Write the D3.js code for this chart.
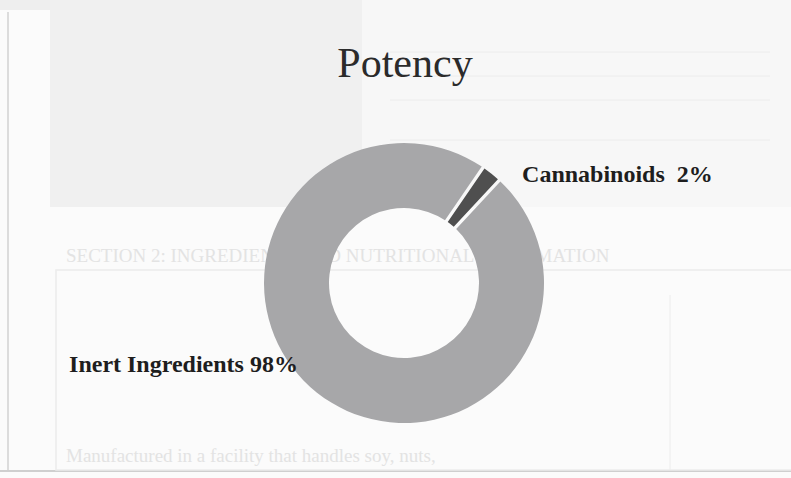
<!DOCTYPE html>
<html>
<head>
<meta charset="utf-8">
<script src="https://cdn.jsdelivr.net/npm/d3@7"></script>
<style>
  html, body { margin: 0; padding: 0; background: #fbfbfb; }
  svg { display: block; }
  .title { font-family: "Liberation Serif", "DejaVu Serif", serif; font-size: 42px; fill: #2b2b2b; }
  .label { font-family: "Liberation Serif", "DejaVu Serif", serif; font-size: 24px; font-weight: bold; fill: #1e1e1e; }
  .ghost { font-family: "Liberation Serif", serif; font-size: 19px; fill: #e3e3e3; }
</style>
</head>
<body>
<svg id="chart" width="791" height="478"></svg>
<script>
// chart values
const categories = ["Cannabinoids", "Inert Ingredients"];
const values = [2, 98];
const sliceColors = ["#4f4f4f", "#a7a7a9"];
const chartTitle = "Potency";

// faint scanned page text behind the chart
const ghostLines = [
  "SECTION 2:  INGREDIENTS AND NUTRITIONAL INFORMATION",
  "Manufactured in a facility that handles soy, nuts,"
];
const ghostY = [262, 462];

const svg = d3.select("#chart");
const W = 791, H = 478;

// --- scanned page background ---
const bg = svg.append("g");
bg.append("rect").attr("x", 0).attr("y", 0).attr("width", W).attr("height", 10).attr("fill", "#eeeeee");
bg.append("rect").attr("x", 50).attr("y", 0).attr("width", 312).attr("height", 207).attr("fill", "#f0f0f0");
bg.append("rect").attr("x", 362).attr("y", 0).attr("width", 429).attr("height", 207).attr("fill", "#f7f7f7");
bg.append("line").attr("x1", 8).attr("x2", 8).attr("y1", 12).attr("y2", 470).attr("stroke", "#dcdcdc").attr("stroke-width", 2);
bg.append("line").attr("x1", 0).attr("x2", W).attr("y1", 471).attr("y2", 471).attr("stroke", "#cfcfcf").attr("stroke-width", 2);
bg.append("rect").attr("x", 56).attr("y", 270).attr("width", 740).attr("height", 200)
  .attr("fill", "none").attr("stroke", "#ececec").attr("stroke-width", 1.5);
bg.append("line").attr("x1", 670).attr("x2", 670).attr("y1", 295).attr("y2", 470).attr("stroke", "#ececec");
[52, 76, 100, 140].forEach(function (y) {
  bg.append("line").attr("x1", 390).attr("x2", 770).attr("y1", y).attr("y2", y).attr("stroke", "#ececec");
});
bg.selectAll("text.ghost")
  .data(ghostLines)
  .enter()
  .append("text")
  .attr("class", "ghost")
  .attr("x", 66)
  .attr("y", function (d, i) { return ghostY[i]; })
  .text(function (d) { return d; });

// --- donut ---
const cx = 404, cy = 283;
const outerR = 140, innerR = 75;
const start = 34.4 * Math.PI / 180;

const pie = d3.pie()
  .sort(null)
  .value(function (d) { return d.value; })
  .startAngle(start)
  .endAngle(start + 2 * Math.PI)
  .padAngle(0.022);

const data = categories.map(function (c, i) { return { name: c, value: values[i], color: sliceColors[i] }; });
const arcs = pie(data);

const arc = d3.arc().innerRadius(innerR).outerRadius(outerR).padRadius(150);

const g = svg.append("g").attr("transform", "translate(" + cx + "," + cy + ")");

g.selectAll("path")
  .data(arcs)
  .enter()
  .append("path")
  .attr("d", arc)
  .attr("fill", function (d) { return d.data.color; });

// labels, placed off each slice centroid
const labelOffsets = [
  { dx: 51, dy: -17, anchor: "start", text: "Cannabinoids\u00a0 2%" },
  { dx: -39, dy: 5, anchor: "end", text: "Inert Ingredients 98%" }
];

g.selectAll("text.label")
  .data(arcs)
  .enter()
  .append("text")
  .attr("class", "label")
  .attr("x", function (d, i) { return arc.centroid(d)[0] + labelOffsets[i].dx; })
  .attr("y", function (d, i) { return arc.centroid(d)[1] + labelOffsets[i].dy; })
  .attr("text-anchor", function (d, i) { return labelOffsets[i].anchor; })
  .text(function (d, i) { return labelOffsets[i].text; });

// title
svg.append("text")
  .attr("class", "title")
  .attr("x", cx + 1)
  .attr("y", 77)
  .attr("text-anchor", "middle")
  .text(chartTitle);
</script>
</body>
</html>
